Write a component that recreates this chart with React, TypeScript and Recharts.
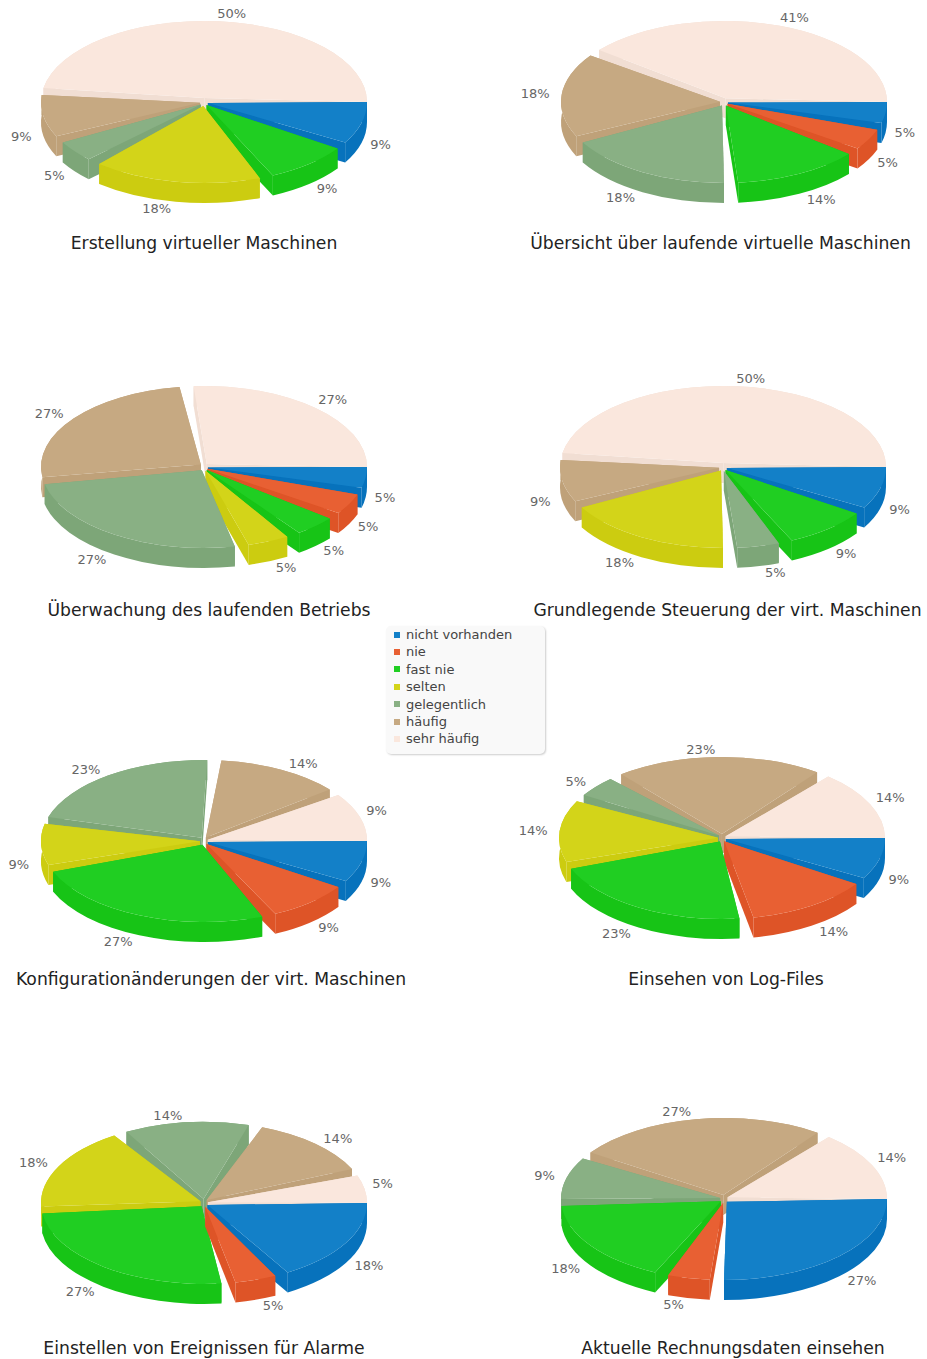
import { Pie, PieChart } from "recharts";

const WIDTH = 927;
const HEIGHT = 1359;

const categories = ["nicht vorhanden", "nie", "fast nie", "selten", "gelegentlich", "häufig", "sehr häufig"];
const topColors = ["#1380C8", "#E86033", "#20CE22", "#D3D419", "#89B084", "#C6A982", "#FAE7DD"];
const wallColors = ["#0772BC", "#DE5427", "#17C416", "#CCCC10", "#7DA678", "#BFA179", "#F1DED3"];

const titles = [
  "Erstellung virtueller Maschinen",
  "Übersicht über laufende virtuelle Maschinen",
  "Überwachung des laufenden Betriebs",
  "Grundlegende Steuerung der virt. Maschinen",
  "Konfigurationänderungen der virt. Maschinen",
  "Einsehen von Log-Files",
  "Einstellen von Ereignissen für Alarme",
  "Aktuelle Rechnungsdaten einsehen",
];

// answers per chart out of 22 respondents, in legend order
const RESPONDENTS = 22;
const erstellung = [2, 0, 2, 4, 1, 2, 11];
const uebersicht = [1, 1, 3, 0, 4, 4, 9];
const ueberwachung = [1, 1, 1, 1, 6, 6, 6];
const steuerung = [2, 0, 2, 4, 1, 2, 11];
const konfiguration = [2, 2, 6, 2, 5, 3, 2];
const logFiles = [2, 3, 5, 3, 1, 5, 3];
const alarme = [4, 1, 6, 4, 3, 3, 1];
const rechnung = [6, 1, 4, 0, 2, 6, 3];
const chartValues = [erstellung, uebersicht, ueberwachung, steuerung, konfiguration, logFiles, alarme, rechnung];

// clockwise slice order; Steuerung has gelegentlich ahead of selten
const defaultOrder = [0, 1, 2, 3, 4, 5, 6];
const steuerungOrder = [0, 1, 2, 4, 3, 5, 6];

const centers = [
  [204, 102],
  [724, 102],
  [204, 467],
  [723, 467],
  [204, 841],
  [722, 838],
  [204, 1203],
  [724, 1199],
];
const titlePositions = [
  [204, 249],
  [720.5, 249],
  [209, 616],
  [727.5, 616],
  [211, 985],
  [726, 985],
  [204, 1354],
  [733, 1354],
];

const RADIUS = 163;
const SQUASH = 0.497;
const DEPTH = 20;
const TIP_GAP = 4;
const LABEL_RY = 88;
const FONT = "'DejaVu Sans', sans-serif";

const toRad = (deg: number) => (deg * Math.PI) / 180;

function Slice3D(props: any, category: string) {
  const entry = props.payload ?? props;
  if (entry.category !== category || !props.value) return <g />;
  const { cx, cy, outerRadius: rx } = props;
  const ry = rx * SQUASH;
  // recharts runs clockwise through negative angles; screen angles grow clockwise
  const t0 = -props.startAngle;
  // the last slice closes the circle, there is no gap back to the first one
  const t1 = -props.endAngle > 354 ? 360 : -props.endAngle;
  const mid = toRad((t0 + t1) / 2);
  const large = t1 - t0 > 180 ? 1 : 0;
  const x0 = cx + rx * Math.cos(toRad(t0));
  const y0 = cy + ry * Math.sin(toRad(t0));
  const x1 = cx + rx * Math.cos(toRad(t1));
  const y1 = cy + ry * Math.sin(toRad(t1));
  const tx = cx + TIP_GAP * Math.cos(mid);
  const ty = cy + TIP_GAP * Math.sin(mid);
  const arc = `A${rx} ${ry} 0 ${large} 1 ${x1} ${y1}`;
  const back = `A${rx} ${ry} 0 ${large} 0 ${x0} ${y0 + DEPTH}`;
  const idx = categories.indexOf(category);
  return (
    <g>
      <path d={`M${tx} ${ty}L${x0} ${y0}L${x0} ${y0 + DEPTH}L${tx} ${ty + DEPTH}Z`} fill={wallColors[idx]} />
      <path d={`M${tx} ${ty}L${x1} ${y1}L${x1} ${y1 + DEPTH}L${tx} ${ty + DEPTH}Z`} fill={wallColors[idx]} />
      <path d={`M${x0} ${y0}${arc}L${x1} ${y1 + DEPTH}${back}Z`} fill={wallColors[idx]} />
      <path d={`M${tx} ${ty}L${x0} ${y0}${arc}Z`} fill={topColors[idx]} />
    </g>
  );
}

function PercentLabel(props: any) {
  if (!props.value) return <g />;
  const t = toRad(-props.midAngle);
  const s = Math.sin(t);
  const c = Math.cos(t);
  // labels hang off the slice: left-aligned on the right half, right-aligned on the left
  const x = c >= 0 ? props.cx + 166 * c + 6 : props.cx + 172 * c - 3;
  const y = props.cy + LABEL_RY * s + (s > 0 ? DEPTH : 0) + 4;
  return (
    <text x={x} y={y} textAnchor={c >= 0 ? "start" : "end"} fontFamily={FONT} fontSize={13} fill="#666">
      {Math.round((props.value / RESPONDENTS) * 100)}%
    </text>
  );
}

// back slices first so nearer slices paint over their walls
function depthOrder(rows: { value: number; category: string }[]) {
  let run = 0;
  const keyed = rows.map((r) => {
    const mid = ((run + r.value / 2) / RESPONDENTS) * 360;
    run += r.value;
    return { category: r.category, depth: Math.sin(toRad(mid)) };
  });
  return keyed.sort((a, b) => a.depth - b.depth).map((k) => k.category);
}

function pieces(chart: number) {
  const order = chart === 3 ? steuerungOrder : defaultOrder;
  const rows = order.map((c) => ({ category: categories[c], value: chartValues[chart][c] }));
  const [cx, cy] = centers[chart];
  return depthOrder(rows).map((category, i) => (
    <Pie
      key={`${chart}-${category}`}
      data={rows}
      dataKey="value"
      nameKey="category"
      cx={cx}
      cy={cy}
      outerRadius={RADIUS}
      startAngle={0}
      endAngle={-360}
      paddingAngle={5}
      stroke="none"
      labelLine={false}
      label={i === 0 ? PercentLabel : false}
      shape={(p: any) => Slice3D(p, category)}
      isAnimationActive={false}
    />
  ));
}

function LegendBox() {
  return (
    <div
      style={{
        position: "absolute",
        left: 386,
        top: 626,
        width: 159,
        height: 128,
        boxSizing: "border-box",
        padding: "0 0 0 8px",
        background: "#f9f9f9",
        borderRadius: 5,
        boxShadow: "1px 1px 2px rgba(0,0,0,0.2)",
        fontFamily: FONT,
        fontSize: 13,
        color: "#444",
      }}
    >
      {categories.map((c, i) => (
        <div key={c} style={{ display: "flex", alignItems: "center", height: 17.4, lineHeight: "17.4px" }}>
          <span style={{ width: 6, height: 6, background: topColors[i], marginRight: 6 }} />
          {c}
        </div>
      ))}
    </div>
  );
}

export default function App() {
  return (
    <div style={{ position: "absolute", left: 0, top: 0, width: WIDTH, height: HEIGHT, background: "#fff" }}>
      <PieChart width={WIDTH} height={HEIGHT} margin={{ top: 0, right: 0, bottom: 0, left: 0 }}>
        {chartValues.flatMap((_, chart) => pieces(chart))}
        {titles.map((t, i) => (
          <text
            key={t}
            x={titlePositions[i][0]}
            y={titlePositions[i][1]}
            textAnchor="middle"
            fontFamily={FONT}
            fontSize={17.2}
            fill="#222"
          >
            {t}
          </text>
        ))}
      </PieChart>
      <LegendBox />
    </div>
  );
}
